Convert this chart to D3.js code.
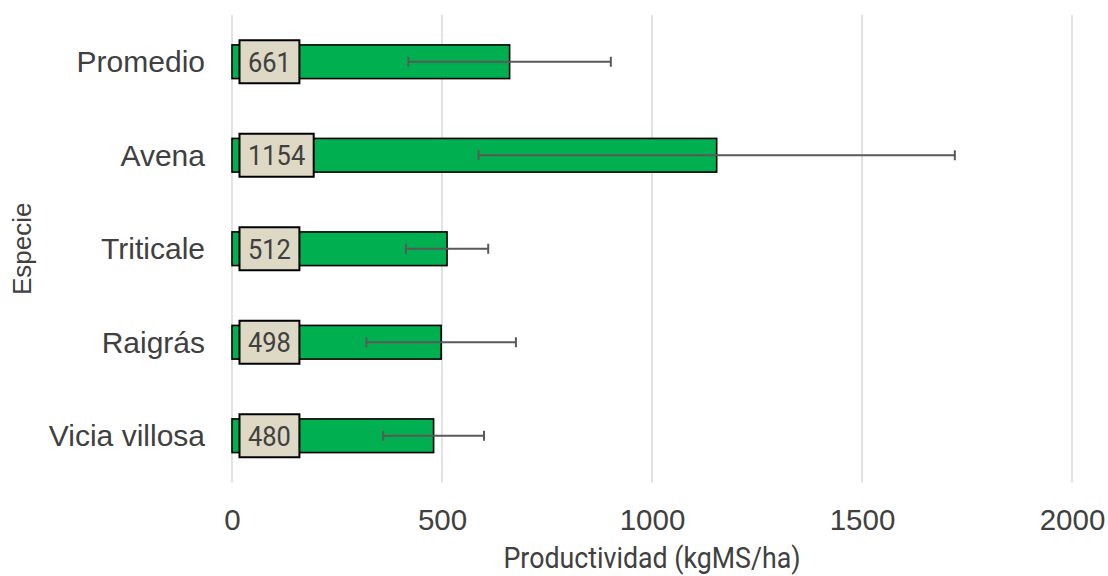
<!DOCTYPE html>
<html>
<head>
<meta charset="utf-8">
<script src="https://cdn.jsdelivr.net/npm/d3@7"></script>
<style>
  html, body { margin: 0; padding: 0; background: #fff; }
  svg { display: block; }
</style>
</head>
<body>
<svg id="chart" width="1108" height="576"></svg>
<script>
const categories = ["Promedio", "Avena", "Triticale", "Raigrás", "Vicia villosa"];
const values = [661, 1154, 512, 498, 480];
const errors = [241, 567, 98, 178, 120];
const xTicks = [0, 500, 1000, 1500, 2000];
const xTitle = "Productividad (kgMS/ha)";
const yTitle = "Especie";

(function () {
const svg = d3.select("#chart");
const pLeft = 232, pRight = 1072, pTop = 15, pBottom = 482.5;

const x = d3.scaleLinear().domain([0, 2000]).range([pLeft, pRight]);
const y = d3.scaleBand().domain(categories).range([pTop, pBottom])
  .paddingInner(0.64).paddingOuter(0.32);

// gridlines
svg.append("g").selectAll("line").data(xTicks).join("line")
  .attr("x1", d => x(d)).attr("x2", d => x(d))
  .attr("y1", pTop).attr("y2", pBottom)
  .attr("stroke", "#d9d9d9").attr("stroke-width", 1.5);

// x tick labels
const xAxis = d3.axisBottom(x).tickValues(xTicks).tickFormat(d3.format("d")).tickSize(0).tickPadding(0);
const gx = svg.append("g").attr("transform", `translate(0, 529.5)`).call(xAxis);
gx.select(".domain").remove();
gx.selectAll("text")
  .attr("y", 0).attr("dy", 0)
  .attr("font-family", "Liberation Sans, Arial").attr("font-size", 29.5)
  .attr("fill", "#404040");

// y tick labels
const yAxis = d3.axisLeft(y).tickSize(0).tickPadding(0);
const gy = svg.append("g").attr("transform", `translate(205, 0)`).call(yAxis);
gy.select(".domain").remove();
gy.selectAll("text")
  .attr("x", 0).attr("dy", "0.35em")
  .attr("font-family", "Liberation Sans, Arial").attr("font-size", 30)
  .attr("fill", "#404040");

// bars
svg.append("g").selectAll("rect").data(categories).join("rect")
  .attr("x", x(0))
  .attr("y", d => y(d))
  .attr("width", (d, i) => x(values[i]) - x(0))
  .attr("height", y.bandwidth())
  .attr("fill", "#00b050")
  .attr("stroke", "#000").attr("stroke-width", 1.6);

// error bars
const eg = svg.append("g").attr("stroke", "#595959").attr("stroke-width", 2);
categories.forEach((c, i) => {
  const cy = y(c) + y.bandwidth() / 2;
  const x0 = x(values[i] - errors[i]), x1 = x(values[i] + errors[i]);
  eg.append("line").attr("x1", x0).attr("x2", x1).attr("y1", cy).attr("y2", cy);
  eg.append("line").attr("x1", x0).attr("x2", x0).attr("y1", cy - 5).attr("y2", cy + 5);
  eg.append("line").attr("x1", x1).attr("x2", x1).attr("y1", cy - 5).attr("y2", cy + 5);
});

// data labels with boxes
const lg = svg.append("g");
categories.forEach((c, i) => {
  const cy = y(c) + y.bandwidth() / 2;
  const txt = String(values[i]);
  const tl = txt.length * 14.3;
  const bw = tl + 17;
  const bx = x(0) + 7.5;
  lg.append("rect")
    .attr("x", bx).attr("y", cy - 21.5)
    .attr("width", bw).attr("height", 43)
    .attr("fill", "#ddd9c4").attr("stroke", "#000").attr("stroke-width", 2);
  lg.append("text")
    .attr("x", bx + bw / 2).attr("y", cy + 10)
    .attr("text-anchor", "middle")
    .attr("font-family", "Roboto").attr("font-size", 27.5)
    .attr("textLength", tl).attr("lengthAdjust", "spacingAndGlyphs")
    .attr("fill", "#404040")
    .text(txt);
});

// x title
svg.append("text")
  .attr("x", (pLeft + pRight) / 2).attr("y", 568)
  .attr("text-anchor", "middle")
  .attr("font-family", "Roboto").attr("font-size", 29)
  .attr("textLength", 297).attr("lengthAdjust", "spacingAndGlyphs")
  .attr("fill", "#404040")
  .text(xTitle);

// y title
svg.append("text")
  .attr("transform", `translate(31, ${(pTop + pBottom) / 2}) rotate(-90)`)
  .attr("text-anchor", "middle")
  .attr("font-family", "Liberation Sans, Arial").attr("font-size", 26)
  .attr("fill", "#404040")
  .text(yTitle);
})();
</script>
</body>
</html>
